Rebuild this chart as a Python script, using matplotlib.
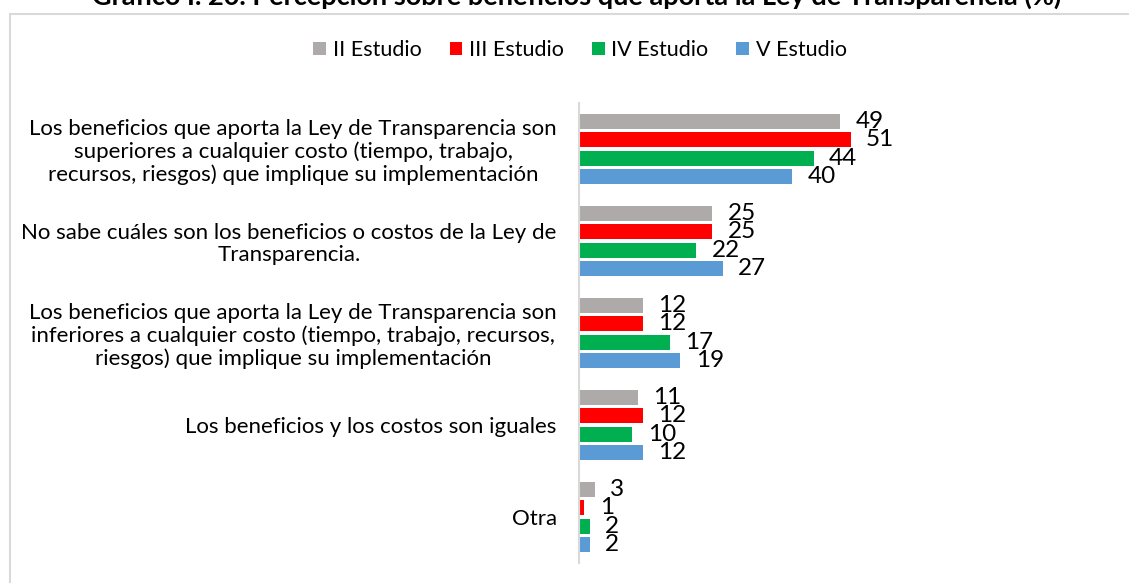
import matplotlib.pyplot as plt
import matplotlib.patches as mpatches
import numpy as np

plt.rcParams['font.family'] = ['Lato', 'DejaVu Sans']

categories = [
    "Los beneficios que aporta la Ley de Transparencia son\nsuperiores a cualquier costo (tiempo, trabajo,\nrecursos, riesgos) que implique su implementación",
    "No sabe cuáles son los beneficios o costos de la Ley de\nTransparencia.",
    "Los beneficios que aporta la Ley de Transparencia son\ninferiores a cualquier costo (tiempo, trabajo, recursos,\nriesgos) que implique su implementación",
    "Los beneficios y los costos son iguales",
    "Otra",
]
series_names = ["II Estudio", "III Estudio", "IV Estudio", "V Estudio"]
estudio_ii = [49, 25, 12, 11, 3]
estudio_iii = [51, 25, 12, 12, 1]
estudio_iv = [44, 22, 17, 10, 2]
estudio_v = [40, 27, 19, 12, 2]
colors = ["#AEAAAA", "#FF0000", "#00B050", "#5B9BD5"]

W, H = 1129, 583
fig = plt.figure(figsize=(W / 100, H / 100), dpi=100)

# chart border
fig.patches.append(mpatches.Rectangle((10 / W, -0.1), 1.2, 1 - 14 / H + 0.1,
                                      transform=fig.transFigure, fill=False,
                                      edgecolor="#D9D9D9", linewidth=1.5))

fig.text(577 / W, 1 - 5 / H,
         "Gráfico I. 20. Percepción sobre beneficios que aporta la Ley de Transparencia (%)",
         ha="center", va="baseline", fontsize=19.5, fontweight="bold")

ax = fig.add_axes([579 / W, (H - 563) / H, 533 / W, (563 - 103) / H])

y = np.arange(len(categories))
step = 0.196
height = 0.163
all_series = [estudio_ii, estudio_iii, estudio_iv, estudio_v]
handles = []
for j, (vals, name, c) in enumerate(zip(all_series, series_names, colors)):
    bars = ax.barh(y + (j - 1.5) * step, vals, height=height, color=c, label=name)
    ax.bar_label(bars, labels=[str(v) for v in vals], padding=11, fontsize=17.5,
                 color="black")
    handles.append(bars)

ax.set_xlim(0, 100)
ax.set_ylim(len(categories) - 0.5, -0.5)
ax.set_yticks(y)
ax.set_yticklabels(categories, fontsize=16, multialignment="center",
                   linespacing=1.15)
ax.tick_params(axis="y", length=0, pad=16)
ax.set_xticks([])
for s in ["top", "right", "bottom"]:
    ax.spines[s].set_visible(False)
ax.spines["left"].set_color("#D9D9D9")
ax.spines["left"].set_linewidth(1.5)

fig.legend(handles=handles, labels=series_names, loc="center",
           bbox_to_anchor=(580 / W, 1 - 50 / H), ncol=4, frameon=False,
           fontsize=15.5, handlelength=0.6, handleheight=0.6, handletextpad=0.3,
           columnspacing=1.3)

fig.savefig("out.png", dpi=100)
